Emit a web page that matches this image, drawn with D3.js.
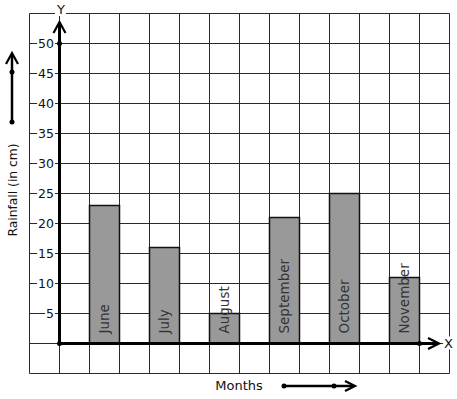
<!DOCTYPE html>
<html>
<head>
<meta charset="utf-8">
<script src="https://cdn.jsdelivr.net/npm/d3@7"></script>
<style>
  body { margin: 0; background: #fff; }
  text { font-family: "DejaVu Sans", sans-serif; font-size: 13px; fill: #111; }
</style>
</head>
<body>
<div id="chart"></div>
<script>
// data
const months = ["June", "July", "August", "September", "October", "November"];
const rainfall = [23, 16, 5, 21, 25, 11];
const yTicks = [5, 10, 15, 20, 25, 30, 35, 40, 45, 50];
const gridCols = d3.range(0, 15);       // 14 squares across
const gridRows = d3.range(-5, 60, 5);   // one square = 5 cm

const width = 457, height = 399;

const svg = d3.select("#chart").append("svg")
    .attr("width", width)
    .attr("height", height);

// scales
const gx = d3.scaleLinear().domain([0, 14]).range([29.5, 449.5]);
const y = d3.scaleLinear().domain([-5, 55]).range([373.5, 13.5]);
const x = d3.scaleBand().domain(months).range([gx(1), gx(14)])
    .paddingInner(0.5).paddingOuter(0.5);

// graph paper
const grid = svg.append("g").attr("stroke", "#2a2a2a").attr("stroke-width", 1);
grid.selectAll("line.v").data(gridCols).enter().append("line")
    .attr("class", "v")
    .attr("x1", d => gx(d)).attr("x2", d => gx(d))
    .attr("y1", y(55)).attr("y2", y(-5));
grid.selectAll("line.h").data(gridRows).enter().append("line")
    .attr("class", "h")
    .attr("x1", gx(0)).attr("x2", gx(14))
    .attr("y1", d => y(d)).attr("y2", d => y(d));

// bars
svg.append("g").selectAll("rect").data(rainfall).enter().append("rect")
    .attr("x", (d, i) => x(months[i]))
    .attr("y", d => y(d))
    .attr("width", x.bandwidth())
    .attr("height", d => y(0) - y(d))
    .attr("fill", "#999999")
    .attr("stroke", "#111")
    .attr("stroke-width", 1.5);

// month names written up the bars
svg.append("g").selectAll("text").data(months).enter().append("text")
    .attr("transform", d => `translate(${x(d) + x.bandwidth() / 2 + 4.5},${y(0) - 10}) rotate(-90)`)
    .attr("text-anchor", "start")
    .style("fill", "#333")
    .style("font-size", "13.5px")
    .text(d => d);

// helper: text with a white patch behind it
function labelWithBg(g, t) {
    const bb = t.node().getBBox();
    g.insert("rect", "text")
        .attr("x", bb.x - 1).attr("y", bb.y + 1)
        .attr("width", bb.width + 2).attr("height", bb.height - 2)
        .attr("fill", "#fff");
}

// y tick labels
yTicks.forEach(v => {
    const g = svg.append("g");
    const t = g.append("text")
        .attr("x", 54).attr("y", y(v) + 4.5)
        .attr("text-anchor", "end")
        .style("font-size", "12.5px")
        .text(v);
    labelWithBg(g, t);
});

// axes
const axes = svg.append("g").attr("stroke", "#000").attr("fill", "none");
axes.append("line")
    .attr("x1", gx(1)).attr("x2", gx(1))
    .attr("y1", y(0)).attr("y2", 23)
    .attr("stroke-width", 3);
axes.append("line")
    .attr("x1", gx(1)).attr("x2", 437)
    .attr("y1", y(0)).attr("y2", y(0))
    .attr("stroke-width", 3);
// arrow heads
axes.append("path")
    .attr("d", `M${gx(1) - 6},33 L${gx(1)},22 L${gx(1) + 6},33`)
    .attr("stroke-width", 2.2);
axes.append("path")
    .attr("d", `M428,${y(0) - 5.5} L439,${y(0)} L428,${y(0) + 5.5}`)
    .attr("stroke-width", 2.2);

// dots on axes
const dots = [[gx(1), y(0)], [gx(1), y(50)], [gx(13), y(0)]];
svg.append("g").selectAll("circle").data(dots).enter().append("circle")
    .attr("cx", d => d[0]).attr("cy", d => d[1]).attr("r", 2.5)
    .attr("fill", "#000");

// axis letters
const gy = svg.append("g");
const ty = gy.append("text").attr("x", gx(1) + 1.5).attr("y", 14)
    .attr("text-anchor", "middle").text("Y");
labelWithBg(gy, ty);
const gxl = svg.append("g");
const tx = gxl.append("text").attr("x", 448.5).attr("y", 347.5)
    .attr("text-anchor", "middle").text("X");
labelWithBg(gxl, tx);

// axis titles
svg.append("text")
    .attr("transform", "translate(16.5,190) rotate(-90)")
    .attr("text-anchor", "middle")
    .style("font-size", "12.3px")
    .text("Rainfall (in cm)");
svg.append("text")
    .attr("x", 239).attr("y", 389.5)
    .attr("text-anchor", "middle")
    .text("Months");

// decorative direction arrows
const deco = svg.append("g").attr("stroke", "#000").attr("fill", "none").attr("stroke-width", 2.5);
deco.append("line").attr("x1", 12).attr("x2", 12).attr("y1", 122).attr("y2", 54);
deco.append("path").attr("d", "M6,64 L12,53 L18,64").attr("stroke-width", 2.2);
deco.append("line").attr("x1", 284).attr("x2", 354).attr("y1", 386).attr("y2", 386);
deco.append("path").attr("d", "M345,381 L355,386 L345,391").attr("stroke-width", 2.2);
const decoDots = [[12, 122], [12, 72], [284, 386], [334, 386]];
svg.append("g").selectAll("circle").data(decoDots).enter().append("circle")
    .attr("cx", d => d[0]).attr("cy", d => d[1]).attr("r", 2.5)
    .attr("fill", "#000");
</script>
</body>
</html>
